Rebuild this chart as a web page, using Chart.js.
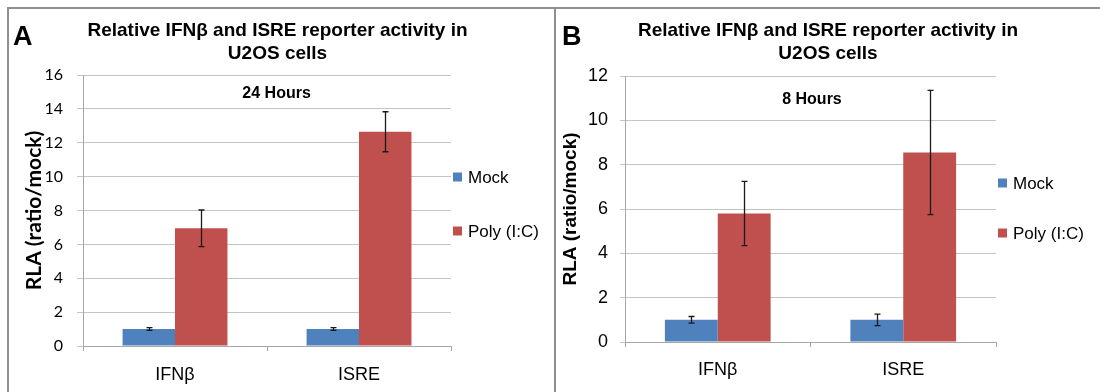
<!DOCTYPE html>
<html><head><meta charset="utf-8">
<script src="https://cdn.jsdelivr.net/npm/chart.js@4.4.0/dist/chart.umd.min.js"></script>
<style>
html,body{margin:0;padding:0;background:#fff;width:1100px;height:392px;overflow:hidden;}
#wrap{position:relative;width:1100px;height:392px;}
.cv{position:absolute;top:0;height:392px;}
#ca{left:0;width:555px;}
#cb{left:556px;width:544px;}
.ln{position:absolute;background:#8f8f8f;}
</style></head><body>
<div id="wrap">
<div class="cv" id="ca"><canvas id="chartA"></canvas></div>
<div class="cv" id="cb"><canvas id="chartB"></canvas></div>
<div class="ln" style="left:7px;top:7px;width:1093px;height:2px"></div>
<div class="ln" style="left:7px;top:7px;width:2px;height:385px"></div>
<div class="ln" style="left:554px;top:7px;width:2px;height:385px"></div>
</div>
<script>
// ---- data ----
const categories = ['IFNβ', 'ISRE'];
const seriesNames = ['Mock', 'Poly (I:C)'];
const seriesColors = ['#4F81BD', '#C0504D'];
const titleLines = ['Relative IFNβ and ISRE reporter activity in', 'U2OS cells'];
const yAxisTitle = 'RLA (ratio/mock)';

// Panel A (24 Hours)
const mockA = [1.0, 1.0];
const mockErrA = [0.08, 0.08];
const polyA = [6.95, 12.65];
const polyErrA = [1.08, 1.18];
const yMaxA = 16, yStepA = 2;

// Panel B (8 Hours)
const mockB = [1.0, 1.0];
const mockErrB = [0.15, 0.26];
const polyB = [5.8, 8.55];
const polyErrB = [1.45, 2.8];
const yMaxB = 12, yStepB = 2;

const ARIAL = "'Liberation Sans', Arial, sans-serif";
const CALIBRI = "Lato, 'Liberation Sans', sans-serif";

// ---- plugins ----
const errorBars = {
  id: 'errorBars',
  afterDatasetsDraw(chart) {
    const ctx = chart.ctx, ys = chart.scales.y;
    ctx.save();
    ctx.strokeStyle = '#1a1a1a';
    ctx.lineWidth = 1.3;
    chart.data.datasets.forEach((ds, i) => {
      const meta = chart.getDatasetMeta(i);
      meta.data.forEach((el, j) => {
        const v = ds.data[j], e = ds.errors[j];
        const yt = ys.getPixelForValue(v + e), yb = ys.getPixelForValue(v - e);
        const x = Math.round(el.x) + 0.5, c = 3;
        ctx.beginPath();
        ctx.moveTo(x, yt); ctx.lineTo(x, yb);
        ctx.moveTo(x - c, yt); ctx.lineTo(x + c, yt);
        ctx.moveTo(x - c, yb); ctx.lineTo(x + c, yb);
        ctx.stroke();
      });
    });
    ctx.restore();
  }
};

const decor = {
  id: 'decor',
  afterDraw(chart, args, o) {
    const ctx = chart.ctx, ca = chart.chartArea;
    ctx.save();
    ctx.fillStyle = '#000';
    ctx.textBaseline = 'middle';
    // panel letter
    ctx.font = "bold 27px " + ARIAL;
    ctx.textAlign = 'left';
    ctx.fillText(o.letter, o.letterX, o.letterY);
    // sub label (hours)
    ctx.font = "bold 16px " + ARIAL;
    ctx.textAlign = 'center';
    ctx.fillText(o.sub, ca.left + o.subFrac * (ca.right - ca.left), chart.scales.y.getPixelForValue(o.subVal));
    // legend
    ctx.font = "17px " + ARIAL;
    ctx.textAlign = 'left';
    chart.data.datasets.forEach((ds, i) => {
      const y = o.legendY[i];
      ctx.fillStyle = ds.backgroundColor;
      ctx.fillRect(o.legendX, y - 4.5, 9, 9);
      ctx.fillStyle = '#000';
      ctx.fillText(ds.label, o.legendX + 15, y + 1);
    });
    ctx.restore();
  }
};

function makeChart(id, mock, mockErr, poly, polyErr, yMax, yStep, cfg) {
  return new Chart(document.getElementById(id), {
    type: 'bar',
    data: {
      labels: categories,
      datasets: [
        { label: seriesNames[0], data: mock, errors: mockErr, backgroundColor: seriesColors[0], borderWidth: 0 },
        { label: seriesNames[1], data: poly, errors: polyErr, backgroundColor: seriesColors[1], borderWidth: 0 }
      ]
    },
    options: {
      responsive: true,
      maintainAspectRatio: false,
      animation: false,
      layout: { padding: 0 },
      datasets: { bar: { categoryPercentage: 0.57, barPercentage: 1.0 } },
      plugins: {
        legend: { display: false },
        tooltip: { enabled: false },
        title: {
          display: true,
          text: titleLines,
          color: '#000',
          font: { family: ARIAL, size: 19, weight: 'bold', lineHeight: 1.2 },
          padding: { top: cfg.titleTop, bottom: cfg.titleBottom }
        },
        decor: cfg.decor
      },
      scales: {
        x: {
          grid: { display: true, drawOnChartArea: false, drawTicks: true, tickLength: 5, color: '#a6a6a6', offset: true },
          border: { display: true, color: '#a6a6a6', width: 1 },
          ticks: { color: '#000', font: { family: ARIAL, size: 18 }, padding: cfg.xPad },
          afterFit(s) { s.height = cfg.xHeight; }
        },
        y: {
          min: 0, max: yMax,
          ticks: { stepSize: yStep, color: '#000', font: { family: cfg.tickFont, size: cfg.tickSize }, padding: cfg.yPad },
          grid: { color: '#c4c4c4', tickLength: cfg.yTick, drawTicks: true },
          border: { display: true, color: '#a6a6a6', width: 1 },
          title: { display: true, text: yAxisTitle, color: '#000', font: { family: cfg.ytFont, size: cfg.ytSize, weight: 'bold', lineHeight: 1.2 }, padding: { top: cfg.ytPad, bottom: 0 } },
          afterFit(s) { s.width = cfg.yWidth; }
        },
        yR: {
          position: 'right', display: true,
          ticks: { display: false }, grid: { display: false, drawTicks: false }, border: { display: false },
          afterFit(s) { s.width = cfg.rightW; }
        }
      }
    },
    plugins: [errorBars, decor]
  });
}

makeChart('chartA', mockA, mockErrA, polyA, polyErrA, yMaxA, yStepA, {
  titleTop: 19.6, titleBottom: 9.8, xPad: 13, xHeight: 46, yPad: 14, yTick: 6, yWidth: 83, rightW: 104,
  tickFont: CALIBRI, tickSize: 16, ytFont: CALIBRI, ytSize: 21, ytPad: 22,
  decor: { letter: 'A', letterX: 13, letterY: 38, sub: '24 Hours', subFrac: 0.526, subVal: 14.9, legendX: 453, legendY: [177, 231] }
});

makeChart('chartB', mockB, mockErrB, polyB, polyErrB, yMaxB, yStepB, {
  titleTop: 19.6, titleBottom: 10.8, xPad: 12, xHeight: 50, yPad: 12, yTick: 5, yWidth: 69, rightW: 104,
  tickFont: ARIAL, tickSize: 18, ytFont: ARIAL, ytSize: 19, ytPad: 3,
  decor: { letter: 'B', letterX: 6, letterY: 38, sub: '8 Hours', subFrac: 0.504, subVal: 10.92, legendX: 442, legendY: [183, 233] }
});
</script>
</body></html>
